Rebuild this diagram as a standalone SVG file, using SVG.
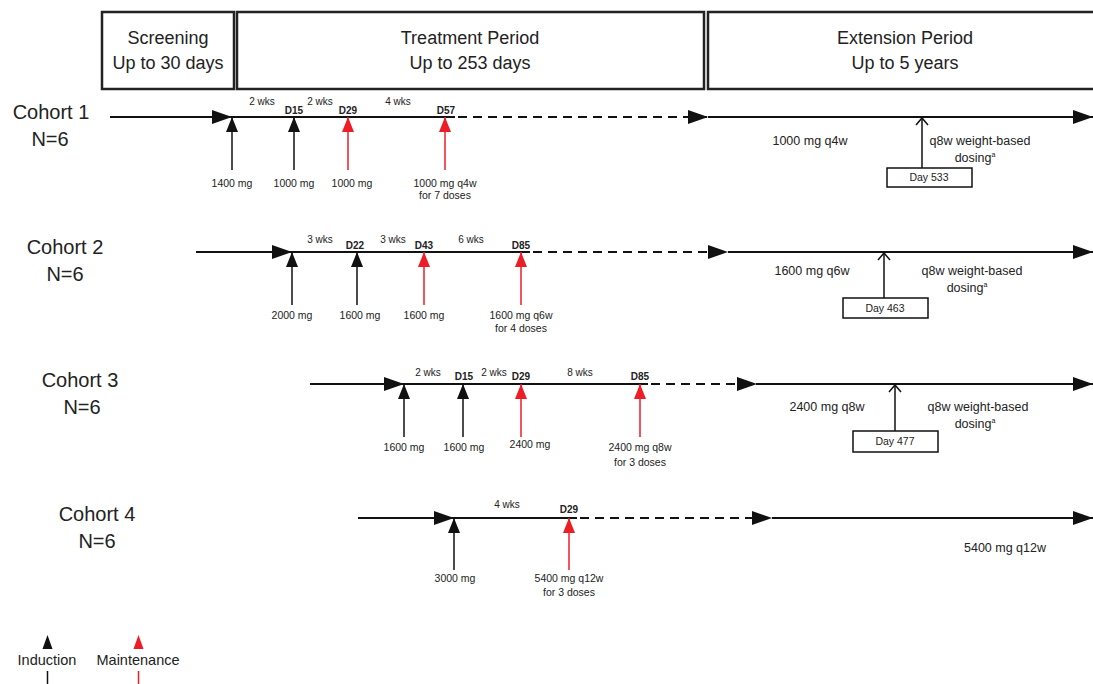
<svg xmlns="http://www.w3.org/2000/svg" width="1093" height="684" viewBox="0 0 1093 684">
<style>
text{font-family:"Liberation Sans",Arial,sans-serif;fill:#222}
.hdr{font-size:18px;text-anchor:middle}
.coh{font-size:20px;text-anchor:middle}
.wk{font-size:10px;text-anchor:middle}
.day{font-size:10px;font-weight:bold;text-anchor:middle}
.dose{font-size:10.5px;text-anchor:middle}
.ext{font-size:12.5px;text-anchor:middle}
.dbox{font-size:10.5px;text-anchor:middle}
.leg{font-size:14.5px;text-anchor:middle}
.box{fill:#fff;stroke:#222;stroke-width:2.5}
.main{stroke:#111;stroke-width:2;fill:none}
.dash{stroke:#111;stroke-width:2;fill:none;stroke-dasharray:9 6}
.ind{stroke:#111;stroke-width:1.5;fill:none}
.mnt{stroke:#ee1c25;stroke-width:1.5;fill:none}
.chev{stroke:#111;stroke-width:1.5;fill:none}
.dayrect{fill:#fff;stroke:#111;stroke-width:1.5}
</style>
<defs>
<marker id="hArrow" markerUnits="userSpaceOnUse" markerWidth="20" markerHeight="14" refX="20" refY="7" orient="auto">
<path d="M0,0 L20,7 L0,14 z" fill="#111"/>
</marker>
<marker id="vBlack" markerUnits="userSpaceOnUse" markerWidth="15" markerHeight="12" refX="15" refY="6" orient="auto">
<path d="M0,0 L15,6 L0,12 z" fill="#111"/>
</marker>
<marker id="vRed" markerUnits="userSpaceOnUse" markerWidth="15" markerHeight="12" refX="15" refY="6" orient="auto">
<path d="M0,0 L15,6 L0,12 z" fill="#ee1c25"/>
</marker>
</defs>

<g id="header">
<g id="hdr-screening">
<rect class="box" x="102" y="12" width="132" height="77"/>
<text class="hdr" x="168" y="44">Screening</text>
<text class="hdr" x="168" y="69">Up to 30 days</text>
</g>
<g id="hdr-treatment">
<rect class="box" x="237" y="12" width="467" height="77"/>
<text class="hdr" x="470" y="44">Treatment Period</text>
<text class="hdr" x="470" y="69">Up to 253 days</text>
</g>
<g id="hdr-extension">
<rect class="box" x="708" y="12" width="400" height="77"/>
<text class="hdr" x="905" y="44">Extension Period</text>
<text class="hdr" x="905" y="69">Up to 5 years</text>
</g>
</g>

<g id="connectors">
<!-- Cohort 1 -->
<line class="main" x1="110" y1="117" x2="232" y2="117" marker-end="url(#hArrow)"/>
<line class="main" x1="232" y1="117" x2="455" y2="117"/>
<line class="dash" x1="458" y1="117" x2="708" y2="117" marker-end="url(#hArrow)"/>
<line class="main" x1="708" y1="117" x2="1093" y2="117" marker-end="url(#hArrow)"/>
<line class="ind" x1="232" y1="170" x2="232" y2="117" marker-end="url(#vBlack)"/>
<line class="ind" x1="294" y1="170" x2="294" y2="117" marker-end="url(#vBlack)"/>
<line class="mnt" x1="348" y1="170" x2="348" y2="117" marker-end="url(#vRed)"/>
<line class="mnt" x1="445" y1="170" x2="445" y2="117" marker-end="url(#vRed)"/>
<line class="chev" x1="922" y1="168" x2="922" y2="118"/>
<polyline class="chev" points="916,125 922,118 928,125"/>
<!-- Cohort 2 -->
<line class="main" x1="196" y1="252" x2="292" y2="252" marker-end="url(#hArrow)"/>
<line class="main" x1="292" y1="252" x2="530" y2="252"/>
<line class="dash" x1="533" y1="252" x2="728" y2="252" marker-end="url(#hArrow)"/>
<line class="main" x1="728" y1="252" x2="1093" y2="252" marker-end="url(#hArrow)"/>
<line class="ind" x1="292" y1="305" x2="292" y2="252" marker-end="url(#vBlack)"/>
<line class="ind" x1="357" y1="305" x2="357" y2="252" marker-end="url(#vBlack)"/>
<line class="mnt" x1="424" y1="305" x2="424" y2="252" marker-end="url(#vRed)"/>
<line class="mnt" x1="521" y1="305" x2="521" y2="252" marker-end="url(#vRed)"/>
<line class="chev" x1="884" y1="298" x2="884" y2="253"/>
<polyline class="chev" points="878,260 884,253 890,260"/>
<!-- Cohort 3 -->
<line class="main" x1="310" y1="384" x2="404" y2="384" marker-end="url(#hArrow)"/>
<line class="main" x1="404" y1="384" x2="648" y2="384"/>
<line class="dash" x1="651" y1="384" x2="757" y2="384" marker-end="url(#hArrow)"/>
<line class="main" x1="757" y1="384" x2="1093" y2="384" marker-end="url(#hArrow)"/>
<line class="ind" x1="404" y1="437" x2="404" y2="384" marker-end="url(#vBlack)"/>
<line class="ind" x1="463" y1="437" x2="463" y2="384" marker-end="url(#vBlack)"/>
<line class="mnt" x1="521" y1="437" x2="521" y2="384" marker-end="url(#vRed)"/>
<line class="mnt" x1="640" y1="437" x2="640" y2="384" marker-end="url(#vRed)"/>
<line class="chev" x1="895" y1="431" x2="895" y2="385"/>
<polyline class="chev" points="889,392 895,385 901,392"/>
<!-- Cohort 4 -->
<line class="main" x1="358" y1="518" x2="454" y2="518" marker-end="url(#hArrow)"/>
<line class="main" x1="454" y1="518" x2="577" y2="518"/>
<line class="dash" x1="580" y1="518" x2="772" y2="518" marker-end="url(#hArrow)"/>
<line class="main" x1="772" y1="518" x2="1093" y2="518" marker-end="url(#hArrow)"/>
<line class="ind" x1="454" y1="570" x2="454" y2="518" marker-end="url(#vBlack)"/>
<line class="mnt" x1="569" y1="570" x2="569" y2="518" marker-end="url(#vRed)"/>
</g>

<g id="cohort1">
<text class="coh" x="51" y="119">Cohort 1</text>
<text class="coh" x="50" y="146">N=6</text>
<text class="wk" x="262" y="105">2 wks</text>
<text class="day" x="294" y="114">D15</text>
<text class="wk" x="320" y="105">2 wks</text>
<text class="day" x="348" y="114">D29</text>
<text class="wk" x="398" y="105">4 wks</text>
<text class="day" x="446" y="114">D57</text>
<text class="dose" x="232" y="187">1400 mg</text>
<text class="dose" x="294" y="187">1000 mg</text>
<text class="dose" x="352" y="187">1000 mg</text>
<text class="dose" x="445" y="187">1000 mg q4w</text>
<text class="dose" x="445" y="199">for 7 doses</text>
<text class="ext" x="810" y="145">1000 mg q4w</text>
<text class="ext" x="980" y="145">q8w weight-based</text>
<text class="ext" x="975" y="162">dosing<tspan font-size="7" dy="-5">a</tspan></text>
<rect class="dayrect" x="887" y="168" width="85" height="19"/>
<text class="dbox" x="929" y="181">Day 533</text>
</g>

<g id="cohort2">
<text class="coh" x="65" y="254">Cohort 2</text>
<text class="coh" x="65" y="281">N=6</text>
<text class="wk" x="320" y="243">3 wks</text>
<text class="day" x="355" y="249">D22</text>
<text class="wk" x="393" y="243">3 wks</text>
<text class="day" x="424" y="249">D43</text>
<text class="wk" x="471" y="243">6 wks</text>
<text class="day" x="521" y="249">D85</text>
<text class="dose" x="292" y="319">2000 mg</text>
<text class="dose" x="360" y="319">1600 mg</text>
<text class="dose" x="424" y="319">1600 mg</text>
<text class="dose" x="521" y="319">1600 mg q6w</text>
<text class="dose" x="521" y="332">for 4 doses</text>
<text class="ext" x="812" y="275">1600 mg q6w</text>
<text class="ext" x="972" y="275">q8w weight-based</text>
<text class="ext" x="967" y="292">dosing<tspan font-size="7" dy="-5">a</tspan></text>
<rect class="dayrect" x="843" y="298" width="85" height="20"/>
<text class="dbox" x="885" y="312">Day 463</text>
</g>

<g id="cohort3">
<text class="coh" x="80" y="387">Cohort 3</text>
<text class="coh" x="82" y="414">N=6</text>
<text class="wk" x="428" y="376">2 wks</text>
<text class="day" x="464" y="380">D15</text>
<text class="wk" x="494" y="376">2 wks</text>
<text class="day" x="521" y="380">D29</text>
<text class="wk" x="580" y="376">8 wks</text>
<text class="day" x="640" y="380">D85</text>
<text class="dose" x="404" y="451">1600 mg</text>
<text class="dose" x="464" y="451">1600 mg</text>
<text class="dose" x="530" y="448">2400 mg</text>
<text class="dose" x="640" y="451">2400 mg q8w</text>
<text class="dose" x="640" y="466">for 3 doses</text>
<text class="ext" x="827" y="411">2400 mg q8w</text>
<text class="ext" x="978" y="411">q8w weight-based</text>
<text class="ext" x="975" y="428">dosing<tspan font-size="7" dy="-5">a</tspan></text>
<rect class="dayrect" x="853" y="431" width="85" height="21"/>
<text class="dbox" x="895" y="445">Day 477</text>
</g>

<g id="cohort4">
<text class="coh" x="97" y="521">Cohort 4</text>
<text class="coh" x="97" y="548">N=6</text>
<text class="wk" x="507" y="508">4 wks</text>
<text class="day" x="569" y="513">D29</text>
<text class="dose" x="455" y="582">3000 mg</text>
<text class="dose" x="569" y="582">5400 mg q12w</text>
<text class="dose" x="569" y="596">for 3 doses</text>
<text class="ext" x="1005" y="552">5400 mg q12w</text>
</g>

<g id="legend">
<g id="legend-induction">
<path d="M42.5,649 L47.5,635 L52.5,649 z" fill="#111"/>
<text class="leg" x="47" y="665">Induction</text>
<line x1="47.5" y1="671" x2="47.5" y2="684" stroke="#111" stroke-width="1.5"/>
</g>
<g id="legend-maintenance">
<path d="M133.5,649 L138.5,635 L143.5,649 z" fill="#ee1c25"/>
<text class="leg" x="138" y="665">Maintenance</text>
<line x1="138.5" y1="671" x2="138.5" y2="684" stroke="#ee1c25" stroke-width="1.5"/>
</g>
</g>
</svg>
